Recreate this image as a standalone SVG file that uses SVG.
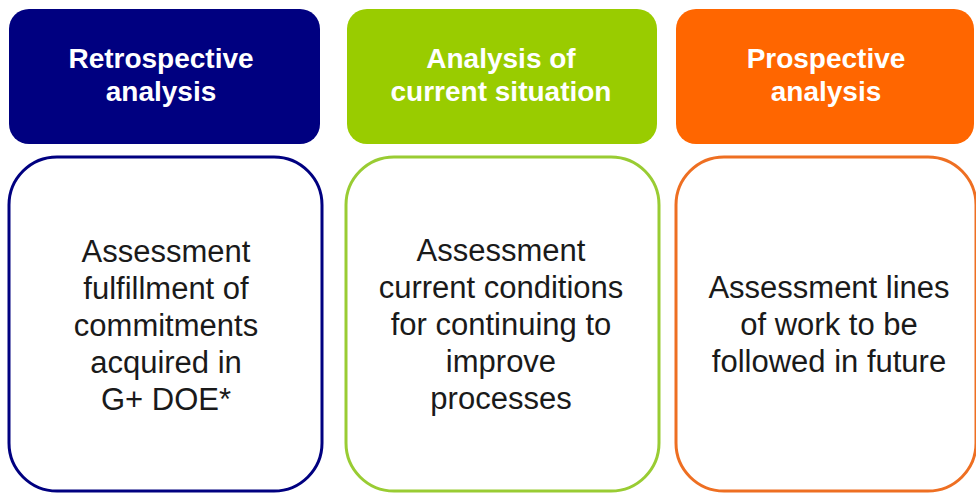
<svg xmlns="http://www.w3.org/2000/svg" width="976" height="493" viewBox="0 0 976 493">
  <style>
    .head { font-family: "Liberation Sans", Arial, sans-serif; font-weight: bold; font-size: 28px; fill: #ffffff; text-anchor: middle; }
    .body { font-family: "Liberation Sans", Arial, sans-serif; font-size: 31px; fill: #1a1a1a; text-anchor: middle; }
    .card { fill: #ffffff; stroke-width: 3; }
  </style>
  <rect width="976" height="493" fill="#ffffff"/>

  <!-- Column 1: retrospective -->
  <g id="retrospective-header">
    <rect x="9" y="9" width="311" height="135" rx="20" fill="#000080"/>
    <text class="head" x="161" y="68">Retrospective</text>
    <text class="head" x="161" y="101">analysis</text>
  </g>
  <g id="retrospective-detail">
    <rect class="card" x="9" y="157" width="313" height="334" rx="48" stroke="#000080"/>
    <text class="body" x="166" y="262">Assessment</text>
    <text class="body" x="166" y="299">fulfillment of</text>
    <text class="body" x="166" y="336">commitments</text>
    <text class="body" x="166" y="373">acquired in</text>
    <text class="body" x="166" y="410">G+ DOE*</text>
  </g>

  <!-- Column 2: current situation -->
  <g id="current-header">
    <rect x="347" y="9" width="310" height="135" rx="20" fill="#99cc00"/>
    <text class="head" x="501" y="68">Analysis of</text>
    <text class="head" x="501" y="101">current situation</text>
  </g>
  <g id="current-detail">
    <rect class="card" x="346" y="157" width="313" height="334" rx="48" stroke="#99cc33"/>
    <text class="body" x="501" y="261">Assessment</text>
    <text class="body" x="501" y="298">current conditions</text>
    <text class="body" x="501" y="335">for continuing to</text>
    <text class="body" x="501" y="372">improve</text>
    <text class="body" x="501" y="409">processes</text>
  </g>

  <!-- Column 3: prospective -->
  <g id="prospective-header">
    <rect x="676" y="9" width="298" height="135" rx="20" fill="#ff6600"/>
    <text class="head" x="826" y="68">Prospective</text>
    <text class="head" x="826" y="101">analysis</text>
  </g>
  <g id="prospective-detail">
    <rect class="card" x="676" y="157" width="300" height="334" rx="48" stroke="#ee6f22"/>
    <text class="body" x="829" y="298">Assessment lines</text>
    <text class="body" x="829" y="335">of work to be</text>
    <text class="body" x="829" y="372">followed in future</text>
  </g>

  <g id="connectors"/>
</svg>
